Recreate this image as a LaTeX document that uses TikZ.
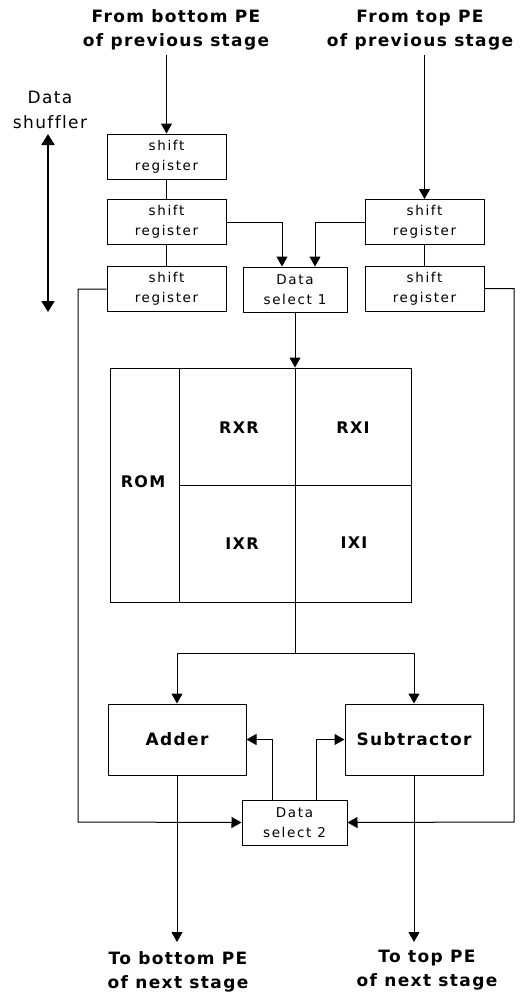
\documentclass[tikz,border=0pt]{standalone}
\usepackage{fontspec}
\setmainfont{DejaVu Sans}
\newfontfamily\pefont[LetterSpace=8, Ligatures=NoCommon]{DejaVu Sans}
\newfontfamily\boxfont[LetterSpace=12, Ligatures=NoCommon]{DejaVu Sans}
\usepackage{tikz}
\usetikzlibrary{arrows.meta, positioning}

\begin{document}
\begin{tikzpicture}[x=1pt, y=-1pt,
    >={Triangle[width=11pt,length=10pt]},
    line width=1pt,
    box/.style={draw, inner sep=0pt, align=center, font=\boxfont\fontsize{13.5}{20}\selectfont},
    reg/.style={box, minimum width=119pt, minimum height=45pt},
    unit/.style={draw, inner sep=0pt, minimum width=138pt, minimum height=71pt,
                 font=\pefont\bfseries\fontsize{17}{20}\selectfont},
    title/.style={align=center, inner sep=0pt, font=\pefont\bfseries\fontsize{17}{24}\selectfont},
    cell/.style={font=\pefont\bfseries\fontsize{16}{20}\selectfont}]

    \useasboundingbox (0,0) rectangle (525,996);

    % =================================================================
    % 1. FREE ENDS OF THE CONNECTORS
    % =================================================================
    \coordinate (shufTop) at (48,134);
    \coordinate (shufBot) at (48,312);
    \coordinate (inL) at (166.5,55);
    \coordinate (inR) at (424.5,55);
    \coordinate (bendL) at (78,822);
    \coordinate (bendR) at (514,822);
    \coordinate (split) at (295,653);
    \coordinate (outL) at (177,942);
    \coordinate (outR) at (414,942);

    % =================================================================
    % 2. BOXES
    % =================================================================
    % Shift registers of the data shuffler
    \node[reg] (sr1) at (166.5,156.5) {shift\\register};
    \node[reg] (sr2) at (166.5,222) {shift\\register};
    \node[reg] (sr3) at (166.5,289) {shift\\register};
    \node[reg] (srt) at (424.5,222) {shift\\register};
    \node[reg] (sr4) at (424.5,288.5) {shift\\register};
    \node[box, minimum width=104pt, minimum height=45pt] (ds1) at (295,289.5) {Data\\select 1};

    % ROM with its four parts
    \node[draw, minimum width=301pt, minimum height=234pt, inner sep=0pt] (rom) at (260.5,485) {};
    \draw ([xshift=70pt]rom.north west) -- ([xshift=70pt]rom.south west);
    \draw ([xshift=70pt]rom.west) -- (rom.east);
    \node[cell] (romlbl) at (143,482) {ROM};
    \node[cell] (rxr) at (239,428) {RXR};
    \node[cell] (rxi) at (353,428) {RXI};
    \node[cell] (ixr) at (242,544) {IXR};
    \node[cell] (ixi) at (354,543) {IXI};

    % Adder, subtractor and second data select
    \node[unit] (adder) at (177,739.5) {Adder};
    \node[unit] (sub) at (414,739.5) {Subtractor};
    \node[box, minimum width=105pt, minimum height=45pt] (ds2) at (294.5,822.5) {Data\\select 2};

    % =================================================================
    % 3. CONNECTORS
    % =================================================================
    \draw[->] (inL) -- (sr1.north);
    \draw (sr1) -- (sr2);
    \draw (sr2) -- (sr3);
    \draw[->] (inR) -- (srt.north);
    \draw (srt) -- (sr4);
    \draw[->] (sr2.east) -| ([xshift=-13pt]ds1.north);
    \draw[->] (srt.west) -| ([xshift=20pt]ds1.north);
    \draw[->] (ds1.south) -- (ds1.south |- rom.north);
    \draw (ds1.south |- rom.north) -- (split);
    \draw[->] (split) -| (adder.north);
    \draw[->] (split) -| (sub.north);
    \draw[->] (sr3.west) -| (bendL) -- (ds2.west);
    \draw[->] (sr4.east) -| (bendR) -- (ds2.east);
    \draw[->] ([xshift=-22pt]ds2.north) |- (adder.east);
    \draw[->] ([xshift=22pt]ds2.north) |- (sub.west);
    \draw[->] (adder.south) -- (outL);
    \draw[->] (sub.south) -- (outR);
    \draw[<->, line width=1.8pt, >={Triangle[width=13pt,length=11pt]}] (shufTop) -- (shufBot);

    % =================================================================
    % 4. TEXTS
    % =================================================================
    \node[title] (fromL) at (176,30) {From bottom PE\\of previous stage};
    \node[title] (fromR) at (420,30) {From top PE\\of previous stage};
    \node[title] (toL) at (178,972) {To bottom PE\\of next stage};
    \node[title] (toR) at (427,970) {To top PE\\of next stage};
    \node[align=center, inner sep=0pt, font=\pefont\fontsize{17}{25}\selectfont] (shuf) at (50,110) {Data\\shuffler};

\end{tikzpicture}
\end{document}
